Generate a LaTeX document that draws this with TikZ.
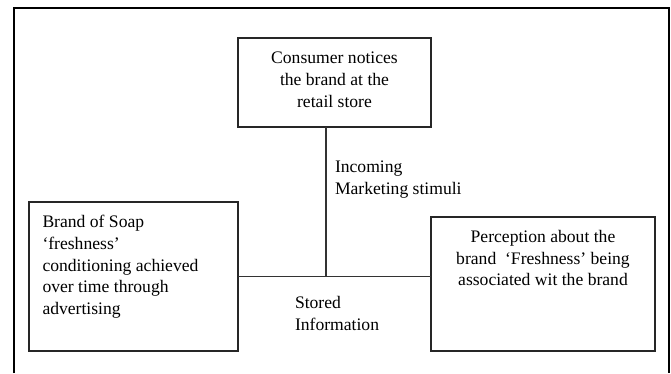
\documentclass[tikz,border=0pt]{standalone}
\usepackage{fontspec}
\setmainfont{Liberation Serif}

\begin{document}
\begin{tikzpicture}[
x=1pt, y=-1pt,
every node/.style={inner sep=0pt, outer sep=0pt, font=\fontsize{17.6}{21.8}\selectfont},
box/.style={rectangle, draw=black!85, line width=1.3pt},
txt/.style={align=center, anchor=north},
link/.style={draw=black!80, line width=1.3pt},
]
\useasboundingbox (0,0) rectangle (671,373);
% outer frame
\draw[line width=1.4pt] (14,373) -- (14,8) -- (669,8) -- (669,373);

\node[box, minimum width=193pt, minimum height=89pt] (notice) at (334.5,82.5) {};
\node[box, minimum width=209pt, minimum height=149pt] (cond) at (133.5,276.5) {};
\node[box, minimum width=224pt, minimum height=134pt] (percep) at (543,284) {};

\node[txt] (noticetxt) at (334.5,52) {Consumer notices\\the brand at the\\retail store};
\node[txt, align=left, anchor=north west] (condtxt) at (42.5,215) {Brand of Soap\\`freshness'\\conditioning achieved\\over time through\\advertising};
\node[txt] (perceptxt) at (543,230) {Perception about the\\brand\ \ `Freshness' being\\associated wit the brand};

\coordinate (junc) at (326,276.5);
\draw[link] (junc |- notice.south) -- (junc);
\draw[link] (cond.east |- junc) -- (percep.west |- junc);

\node[align=left, anchor=north west] (stimuli) at (335,161) {Incoming\\Marketing stimuli};
\node[align=left, anchor=north west] (stored) at (295,296) {Stored\\Information};
\end{tikzpicture}
\end{document}
